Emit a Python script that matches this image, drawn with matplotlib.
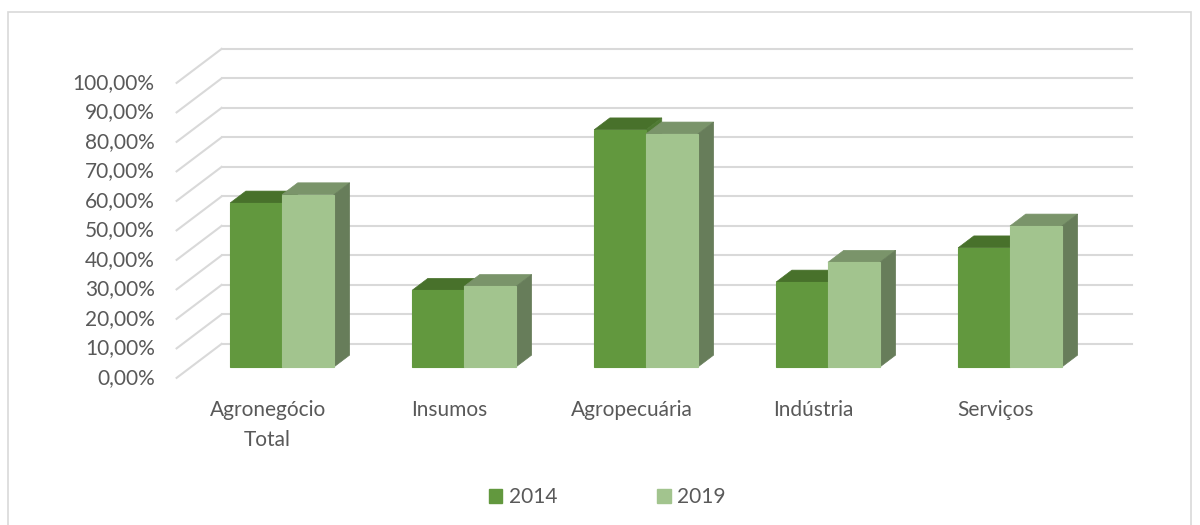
import matplotlib
matplotlib.use("Agg")
import matplotlib.pyplot as plt
from matplotlib.patches import Polygon, Patch, Rectangle

# dados (% )
categorias = ["Agronegócio\nTotal", "Insumos", "Agropecuária", "Indústria", "Serviços"]
anos = ["2014", "2019"]
v2014 = [55.6, 26.0, 80.4, 28.8, 40.4]
v2019 = [58.4, 27.3, 79.0, 35.5, 47.8]
yticks = list(range(0, 101, 10))

# cores (frente, topo, lado)
cores = {
    "2014": ("#62983E", "#48712B", "#4F7A33"),
    "2019": ("#A2C48E", "#7A946A", "#677D5A"),
}
grid_cor = "#D9D9D9"
txt_cor = "#595959"

plt.rcParams["font.family"] = ["Lato", "DejaVu Sans"]

fig = plt.figure(figsize=(12, 5.25), dpi=100)
# eixo = plano frontal das barras, 0..100%
ax = fig.add_axes([191 / 1200, (525 - 367) / 525, 910 / 1200, 295 / 525])
ax.set_xlim(-0.5, 4.5)
ax.set_ylim(0, 100)
ax.axis("off")

# profundidade total (em unidades de dados) e frações
DX, DY = 45 / 182, 34 / 2.95
f_bar, f_prof = 0.32, 0.35
front = (-f_bar * DX, -f_bar * DY)
back = ((1 - f_bar) * DX, (1 - f_bar) * DY)
bd = (f_prof * DX, f_prof * DY)

# grade: parede do fundo + parede lateral
for v in yticks:
    ax.plot([-0.5 + back[0], 4.5 + back[0]], [v + back[1]] * 2,
            color=grid_cor, lw=1.5, clip_on=False, zorder=1)
    ax.plot([-0.5 + front[0], -0.5 + back[0]], [v + front[1], v + back[1]],
            color=grid_cor, lw=1.5, clip_on=False, zorder=1)
    ax.text(-0.5 + front[0] - 0.12, v + front[1], f"{v},00%",
            ha="right", va="center", fontsize=15, color=txt_cor)

w = 0.285
for i in range(len(categorias)):
    for j, (ano, vals) in enumerate(zip(anos, [v2014, v2019])):
        x0 = i - w + j * w
        h = vals[i]
        cf, ct, cs = cores[ano]
        ax.bar(x0, h, width=w, align="edge", color=cf, edgecolor=cf,
               lw=0.8, zorder=3 + j, clip_on=False)
        topo = [(x0, h), (x0 + w, h), (x0 + w + bd[0], h + bd[1]), (x0 + bd[0], h + bd[1])]
        ax.add_patch(Polygon(topo, closed=True, fc=ct, ec=ct, lw=0.5, zorder=2 + j, clip_on=False))
        lado = [(x0 + w, 0), (x0 + w + bd[0], bd[1]), (x0 + w + bd[0], h + bd[1]), (x0 + w, h)]
        ax.add_patch(Polygon(lado, closed=True, fc=cs, ec=cs, lw=0.5, zorder=2 + j, clip_on=False))
    ax.text(i + front[0], front[1] - 7.5, categorias[i], ha="center", va="top",
            fontsize=15, color=txt_cor, linespacing=1.65)

handles = [Patch(color=cores[a][0]) for a in anos]
fig.legend(handles, anos, loc="center", bbox_to_anchor=(607 / 1200, 1 - 497 / 525),
           ncol=2, frameon=False, fontsize=15, labelcolor=txt_cor,
           handlelength=0.65, handleheight=0.65, handletextpad=0.3, columnspacing=4.8)

# moldura do gráfico
fig.add_artist(Rectangle((8 / 1200, -0.02), 1183 / 1200, 1 - 12 / 525 + 0.02,
                         transform=fig.transFigure, fill=False, ec="#D9D9D9", lw=1.2))

fig.savefig("out.png", dpi=100, facecolor="white")
